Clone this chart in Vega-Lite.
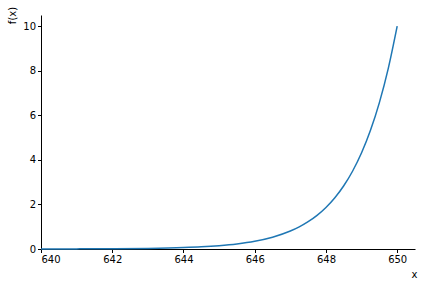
{
  "$schema": "https://vega.github.io/schema/vega-lite/v6.json",
  "width": 374,
  "height": 234,
  "autosize": {"type": "none"},
  "padding": {"left": 41, "top": 15, "right": 9, "bottom": 38},
  "background": "white",
  "config": {
    "view": {"stroke": null},
    "font": "DejaVu Sans",
    "axis": {
      "grid": false,
      "domainColor": "black",
      "tickColor": "black",
      "tickSize": 3.5,
      "labelColor": "black",
      "labelFontSize": 10,
      "titleFontSize": 10,
      "titleFontWeight": "normal",
      "titleColor": "black",
      "labelFont": "DejaVu Sans",
      "titleFont": "DejaVu Sans"
    }
  },
  "data": {
    "values": [
      {"x": 640, "y": 0.0022},
      {"x": 641, "y": 0.0052},
      {"x": 642, "y": 0.012},
      {"x": 643, "y": 0.028},
      {"x": 644, "y": 0.065},
      {"x": 644.5, "y": 0.098},
      {"x": 645, "y": 0.150},
      {"x": 645.5, "y": 0.228},
      {"x": 646, "y": 0.347},
      {"x": 646.5, "y": 0.529},
      {"x": 647, "y": 0.805},
      {"x": 647.25, "y": 0.993},
      {"x": 647.5, "y": 1.225},
      {"x": 647.75, "y": 1.51},
      {"x": 648, "y": 1.864},
      {"x": 648.25, "y": 2.30},
      {"x": 648.5, "y": 2.837},
      {"x": 648.75, "y": 3.50},
      {"x": 649, "y": 4.317},
      {"x": 649.25, "y": 5.326},
      {"x": 649.5, "y": 6.57},
      {"x": 649.75, "y": 8.106},
      {"x": 650, "y": 10}
    ]
  },
  "mark": {"type": "line", "color": "#1f77b4", "strokeWidth": 1.5, "interpolate": "monotone"},
  "encoding": {
    "x": {
      "field": "x", "type": "quantitative",
      "scale": {"domain": [640, 650.5], "nice": false, "zero": false},
      "axis": {"values": [640, 642, 644, 646, 648, 650], "title": "x", "titleX": 373, "titleY": 20, "titleAlign": "center", "labelPadding": 2}
    },
    "y": {
      "field": "y", "type": "quantitative",
      "scale": {"domain": [0, 10.5], "nice": false},
      "axis": {"values": [0, 2, 4, 6, 8, 10], "title": "f(x)", "titleX": -29, "titleY": 0, "titleAlign": "center", "titleBaseline": "middle", "labelPadding": 2}
    }
  }
}
